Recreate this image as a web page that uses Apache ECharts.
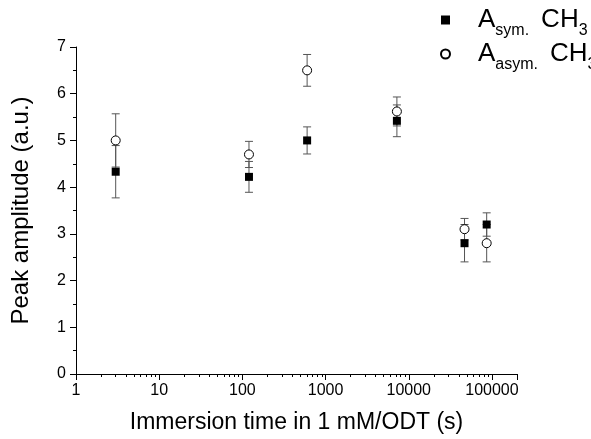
<!DOCTYPE html>
<html>
<head>
<meta charset="utf-8">
<script src="https://cdn.jsdelivr.net/npm/echarts@6/dist/echarts.min.js"></script>
<style>
  html, body { margin: 0; padding: 0; background: #fff; }
  #chart { width: 591px; height: 439px; }
</style>
</head>
<body>
<div id="chart"></div>
<script>
// immersion times (s)
const times = [3, 120, 600, 7200, 46800, 86400];
// A sym. CH3 (filled squares)
const symVals = [4.33, 4.22, 5.0, 5.42, 2.8, 3.2];
const symErr = [0.56, 0.33, 0.29, 0.34, 0.4, 0.25];
// A asym. CH3 (open circles)
const asymVals = [5.0, 4.7, 6.5, 5.62, 3.1, 2.8];
const asymErr = [0.57, 0.28, 0.34, 0.31, 0.23, 0.4];

const xMajor = [1, 10, 100, 1000, 10000, 100000];
const xMinor = [2, 3, 4, 5, 6, 7, 8, 9, 20, 30, 40, 50, 60, 70, 80, 90,
  200, 300, 400, 500, 600, 700, 800, 900, 2000, 3000, 4000, 5000, 6000, 7000, 8000, 9000,
  20000, 30000, 40000, 50000, 60000, 70000, 80000, 90000];
const xMax = 200000;

const FONT = "Liberation Sans";

const errData = (vals, errs) => times.map((t, i) => [t, vals[i] - errs[i], vals[i] + errs[i]]);
const ptData = (vals) => times.map((t, i) => [t, vals[i]]);

// 误差棒
const renderErr = (params, api) => {
  const x = api.value(0);
  const lo = api.coord([x, api.value(1)]);
  const hi = api.coord([x, api.value(2)]);
  const hw = 4;
  const style = { stroke: "#555", lineWidth: 1 };
  return {
    type: "group",
    children: [
      { type: "line", shape: { x1: lo[0], y1: lo[1], x2: hi[0], y2: hi[1] }, style },
      { type: "line", shape: { x1: lo[0] - hw, y1: lo[1], x2: lo[0] + hw, y2: lo[1] }, style },
      { type: "line", shape: { x1: hi[0] - hw, y1: hi[1], x2: hi[0] + hw, y2: hi[1] }, style },
    ],
  };
};

const legendText = {
  sym: "{a|A}{s|sym.}{c|CH}{n|3}",
  asym: "{a|A}{s|asym.}{c|CH}{n|3}",
};

const chart = echarts.init(document.getElementById("chart"));
chart.setOption({
  animation: false,
  textStyle: { fontFamily: FONT },
  grid: { left: 76, right: 74, top: 47, bottom: 63 },
  legend: {
    data: ["sym", "asym"],
    orient: "vertical",
    left: 440,
    top: 7,
    padding: 0,
    itemGap: 2,
    itemWidth: 9,
    itemHeight: 9,
    formatter: (name) => legendText[name],
    textStyle: {
      padding: [0, 0, 0, 23],
      rich: {
        a: { fontSize: 26, fontFamily: FONT, color: "#000", lineHeight: 38, verticalAlign: "middle" },
        c: { fontSize: 26, fontFamily: FONT, color: "#000", lineHeight: 38, verticalAlign: "middle", padding: [0, 0, 0, 12] },
        s: { fontSize: 16, fontFamily: FONT, color: "#000", lineHeight: 16, verticalAlign: "bottom" },
        n: { fontSize: 16, fontFamily: FONT, color: "#000", lineHeight: 16, verticalAlign: "bottom" },
      },
    },
  },
  xAxis: [
    {
      type: "log",
      logBase: 10,
      min: 1,
      max: xMax,
      name: "Immersion time in 1 mM/ODT (s)",
      nameLocation: "middle",
      nameGap: 37,
      nameTextStyle: { fontSize: 23, color: "#000", fontFamily: FONT },
      axisLine: { show: true, lineStyle: { color: "#000", width: 1 } },
      axisTick: { show: true, length: 6, customValues: xMajor.concat([xMax]), lineStyle: { color: "#000" } },
      axisLabel: {
        customValues: xMajor,
        formatter: (v) => String(Math.round(v)),
        fontSize: 16,
        color: "#000",
        margin: 9,
      },
      splitLine: { show: false },
    },
    {
      type: "log",
      logBase: 10,
      min: 1,
      max: xMax,
      position: "bottom",
      axisLine: { show: false },
      axisTick: { show: true, length: 3, customValues: xMinor, lineStyle: { color: "#000" } },
      axisLabel: { show: false },
      splitLine: { show: false },
    },
  ],
  yAxis: {
    type: "value",
    min: 0,
    max: 7,
    interval: 1,
    name: "Peak amplitude (a.u.)",
    nameLocation: "middle",
    nameGap: 43,
    nameTextStyle: { fontSize: 24, color: "#000", fontFamily: FONT },
    axisLine: { show: true, lineStyle: { color: "#000", width: 1 } },
    axisTick: { show: true, length: 6, lineStyle: { color: "#000" } },
    minorTick: { show: true, splitNumber: 2, length: 3, lineStyle: { color: "#000" } },
    axisLabel: { fontSize: 16, color: "#000", margin: 10 },
    splitLine: { show: false },
  },
  series: [
    {
      type: "custom",
      xAxisIndex: 0,
      renderItem: renderErr,
      encode: { x: 0, y: [1, 2] },
      data: errData(symVals, symErr),
      z: 1,
    },
    {
      type: "custom",
      xAxisIndex: 0,
      renderItem: renderErr,
      encode: { x: 0, y: [1, 2] },
      data: errData(asymVals, asymErr),
      z: 1,
    },
    {
      name: "sym",
      type: "scatter",
      symbol: "rect",
      symbolSize: 8,
      itemStyle: { color: "#000", opacity: 1 },
      data: ptData(symVals),
      z: 3,
    },
    {
      name: "asym",
      type: "scatter",
      symbol: "circle",
      symbolSize: 9,
      itemStyle: { color: "#fff", borderColor: "#000", borderWidth: 1, opacity: 1 },
      data: ptData(asymVals),
      z: 3,
    },
  ],
});
</script>
</body>
</html>
